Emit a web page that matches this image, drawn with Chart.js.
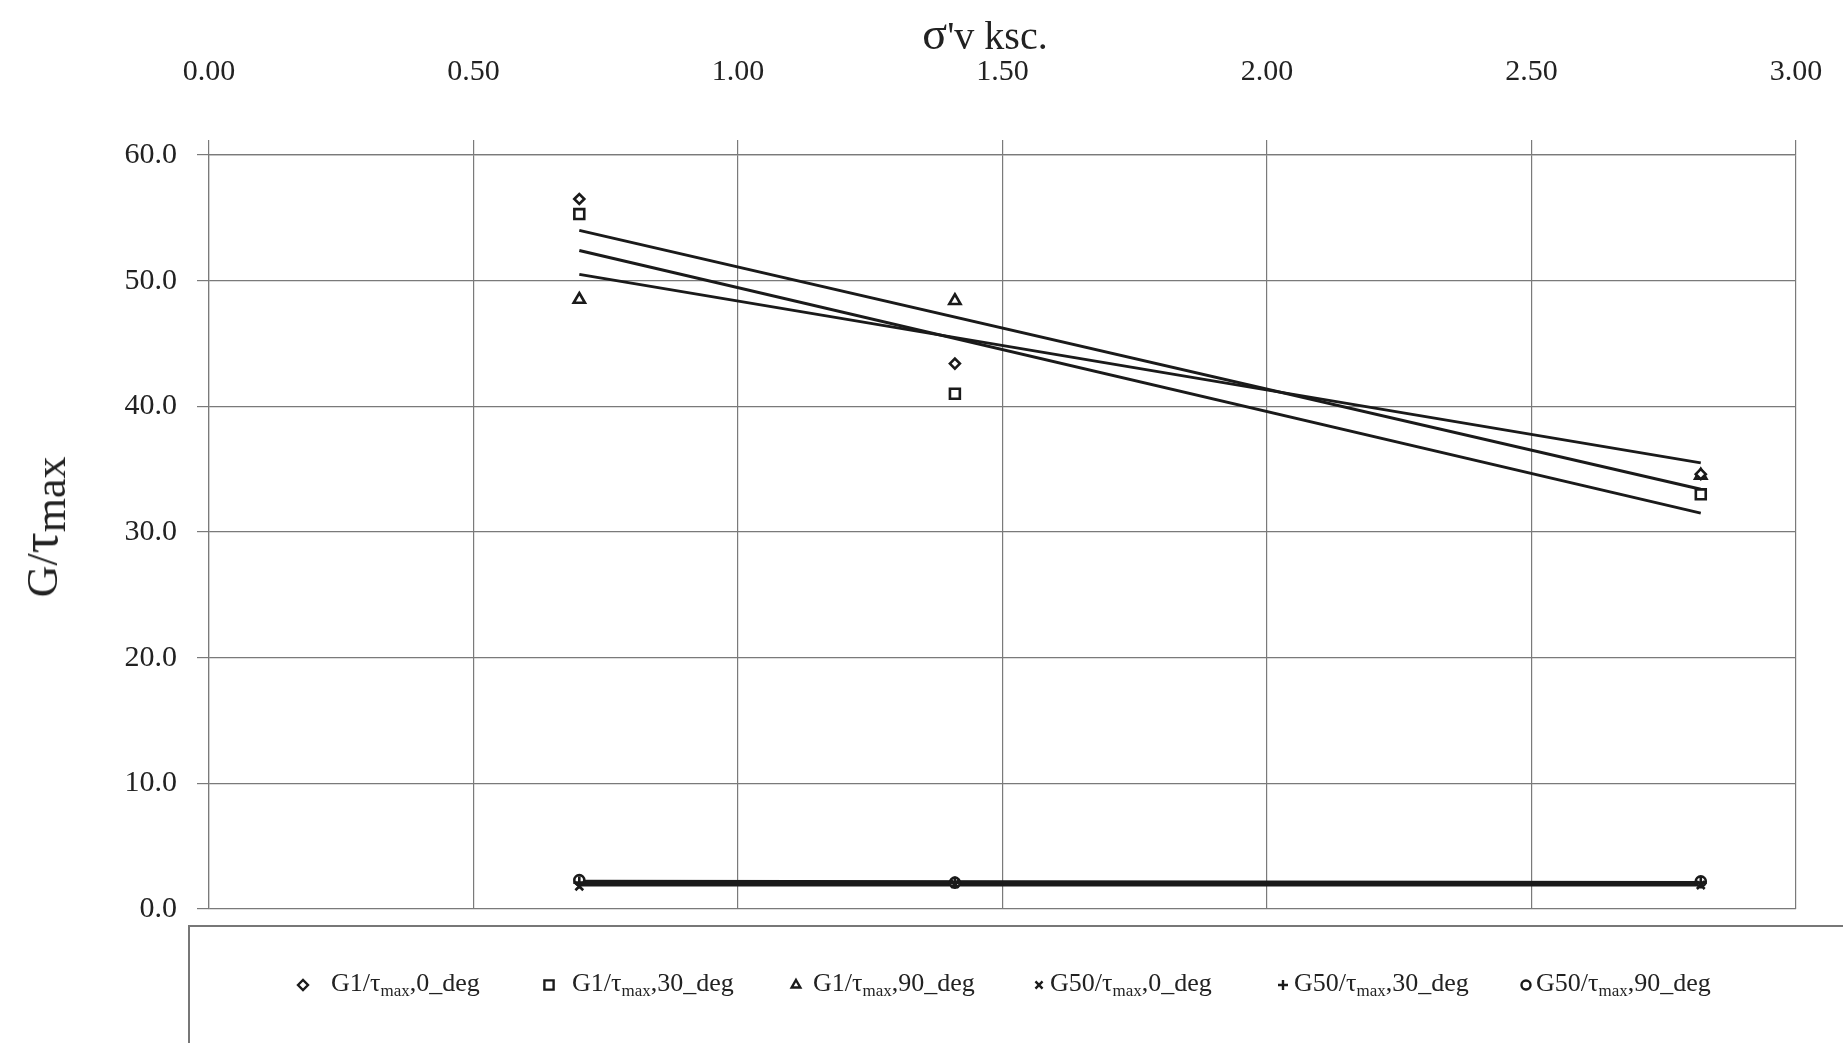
<!DOCTYPE html>
<html>
<head>
<meta charset="utf-8">
<script src="https://cdn.jsdelivr.net/npm/chart.js@4.4.0/dist/chart.umd.min.js"></script>
<style>
  html, body { margin: 0; padding: 0; background: #fff; }
  #wrap { position: relative; width: 1843px; height: 1043px; overflow: hidden; }
  #chart { position: absolute; left: 0; top: 0; }
  #xtitle {
    position: absolute; left: 985px; top: 33px;
    transform: translate(-50%, -50%);
    font: 40px "Liberation Serif"; color: #222; white-space: nowrap;
  }
  #xtitle b { font-weight: normal; font-size: 46px; }
  #ytitle {
    position: absolute; left: 43px; top: 527px;
    transform: translate(-50%, -50%) rotate(-90deg);
    font: 44px "Liberation Serif"; color: #222; white-space: nowrap;
  }
  #ytitle b { font-weight: normal; font-size: 52px; }
  #ytitle sub { font-size: 44px; vertical-align: -8px; }
  #legend {
    position: absolute; left: 188px; top: 925px; width: 1700px; height: 200px;
    border: 2px solid #777;
  }
  .item { position: absolute; top: 970px; height: 28px; font: 26px "Liberation Serif"; color: #222; white-space: nowrap; }
  .item canvas { position: absolute; top: 6px; }
  .item span { position: absolute; top: -2px; }
  .item sub { font-size: 17px; vertical-align: -5px; }
</style>
</head>
<body>
<div id="wrap">
  <canvas id="chart" width="1843" height="1043"></canvas>
  <div id="xtitle"><b>σ</b>'v ksc.</div>
  <div id="ytitle">G/<b>τ</b><sub>max</sub></div>
  <div id="legend"></div>
</div>
<script>
// values
const sigmaV = [0.70, 1.41, 2.82];
const g1Deg0 = [56.5, 43.4, 34.6];
const g1Deg30 = [55.3, 41.0, 33.0];
const g1Deg90 = [48.5, 48.4, 34.5];
const g50Deg0 = [1.8, 2.0, 1.9];
const g50Deg30 = [2.1, 2.1, 2.1];
const g50Deg90 = [2.3, 2.1, 2.2];

// trend line end points (at first and last sigma)
const trendX = [0.70, 2.82];
const trendG1Deg0 = [54.0, 33.4];
const trendG1Deg30 = [52.4, 31.5];
const trendG1Deg90 = [50.5, 35.5];
const trendG50Deg0 = [1.9, 1.9];
const trendG50Deg30 = [2.1, 2.1];
const trendG50Deg90 = [2.2, 2.1];

const seriesNames = ["0_deg", "30_deg", "90_deg", "0_deg", "30_deg", "90_deg"];
const seriesPrefix = ["G1", "G1", "G1", "G50", "G50", "G50"];

const toPts = (xs, ys) => xs.map((x, i) => ({ x: x, y: ys[i] }));
const ink = "#1a1a1a";
const grid = "#7a7a7a";
const serif = "Liberation Serif";

const markers = [
  { data: g1Deg0, style: "rectRot", r: 5 },
  { data: g1Deg30, style: "rect", r: 7 },
  { data: g1Deg90, style: "triangle", r: 6.5 },
  { data: g50Deg0, style: "crossRot", r: 5.5 },
  { data: g50Deg30, style: "cross", r: 6 },
  { data: g50Deg90, style: "circle", r: 5 }
];
const trends = [trendG1Deg0, trendG1Deg30, trendG1Deg90, trendG50Deg0, trendG50Deg30, trendG50Deg90];

const datasets = [];
markers.forEach((m, i) => {
  datasets.push({
    label: seriesPrefix[i] + "/τmax," + seriesNames[i],
    data: toPts(sigmaV, m.data),
    pointStyle: m.style,
    pointRadius: m.r,
    pointBorderWidth: 2.6,
    pointBorderColor: ink,
    pointBackgroundColor: "#fff",
    showLine: false
  });
});
trends.forEach((t) => {
  datasets.push({
    data: toPts(trendX, t),
    showLine: true,
    borderColor: ink,
    borderWidth: 3,
    pointRadius: 0
  });
});

const chart = new Chart(document.getElementById("chart"), {
  type: "scatter",
  data: { datasets: datasets },
  options: {
    responsive: false,
    animation: false,
    events: [],
    layout: { padding: { left: 0, right: 47, top: 0, bottom: 134 } },
    plugins: { legend: { display: false }, tooltip: { enabled: false } },
    scales: {
      x: {
        type: "linear",
        position: "top",
        min: 0,
        max: 3,
        ticks: {
          stepSize: 0.5,
          callback: (v) => v.toFixed(2),
          padding: 50,
          maxRotation: 0,
          font: { family: serif, size: 30 },
          color: "#222"
        },
        grid: { color: grid, lineWidth: 1.2, tickLength: 15 },
        border: { color: grid, width: 1.2 },
        afterFit: (s) => { s.height = 155; s.paddingLeft = 0; s.paddingRight = 0; }
      },
      y: {
        min: 0,
        max: 60,
        ticks: {
          stepSize: 10,
          callback: (v) => v.toFixed(1),
          padding: 20,
          font: { family: serif, size: 30 },
          color: "#222"
        },
        grid: { color: grid, lineWidth: 1.2, tickLength: 12 },
        border: { color: grid, width: 1.2 },
        afterFit: (s) => { s.width = 209; }
      }
    }
  }
});

// legend with subscript text
const legendMarkX = [303, 549, 796, 1039, 1283, 1526];
const legendTextX = [331, 572, 813, 1050, 1294, 1536];
const wrap = document.getElementById("wrap");
markers.forEach((m, i) => {
  const item = document.createElement("div");
  item.className = "item";
  item.style.left = "0px";
  const c = document.createElement("canvas");
  c.width = 18; c.height = 18;
  c.style.left = (legendMarkX[i] - 9) + "px";
  const ctx = c.getContext("2d");
  ctx.strokeStyle = ink;
  ctx.fillStyle = "#fff";
  ctx.lineWidth = 2.4;
  const r = m.style === "rect" ? 6.5 : (m.style === "circle" ? 4.5 : 5);
  if (Chart.helpers && Chart.helpers.drawPoint) {
    Chart.helpers.drawPoint(ctx, { pointStyle: m.style, radius: r, rotation: 0, borderWidth: 2.4 }, 9, 9);
  }
  const span = document.createElement("span");
  span.style.left = legendTextX[i] + "px";
  span.innerHTML = seriesPrefix[i] + "/τ<sub>max</sub>," + seriesNames[i];
  item.appendChild(c);
  item.appendChild(span);
  wrap.appendChild(item);
});
</script>
</body>
</html>
